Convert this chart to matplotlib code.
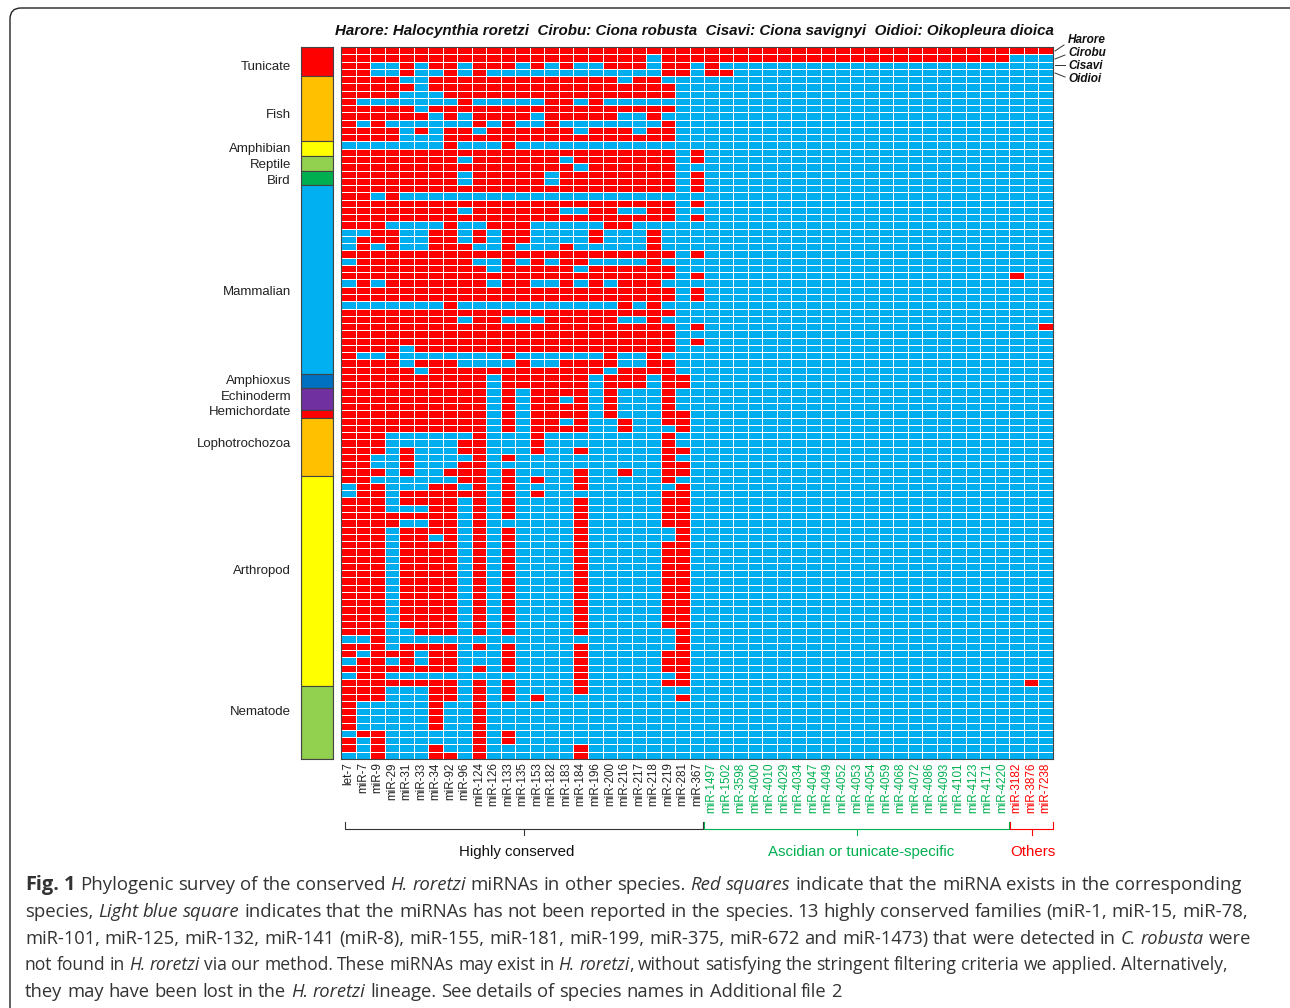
import numpy as np
import matplotlib
matplotlib.use("Agg")
import matplotlib.pyplot as plt
from matplotlib.colors import ListedColormap
from matplotlib.patches import FancyBboxPatch

# miRNA names, one per column
conserved = ["let-7", "miR-7", "miR-9", "miR-29", "miR-31", "miR-33", "miR-34", "miR-92", "miR-96",
             "miR-124", "miR-126", "miR-133", "miR-135", "miR-153", "miR-182", "miR-183", "miR-184",
             "miR-196", "miR-200", "miR-216", "miR-217", "miR-218", "miR-219", "miR-281", "miR-367"]
ascidian = ["miR-1497", "miR-1502", "miR-3598", "miR-4000", "miR-4010", "miR-4029", "miR-4034",
            "miR-4047", "miR-4049", "miR-4052", "miR-4053", "miR-4054", "miR-4059", "miR-4068",
            "miR-4072", "miR-4086", "miR-4093", "miR-4101", "miR-4123", "miR-4171", "miR-4220"]
others = ["miR-3182", "miR-3876", "miR-7238"]

groups = ["Tunicate", "Fish", "Amphibian", "Reptile", "Bird", "Mammalian", "Amphioxus",
          "Echinoderm", "Hemichordate", "Lophotrochozoa", "Arthropod", "Nematode"]
group_rows = [4, 9, 2, 2, 2, 26, 2, 3, 1, 8, 29, 10]
group_colors = ["#FF0000", "#FFC000", "#FFFF00", "#92D050", "#00B050", "#00B0F0", "#0070C0",
                "#7030A0", "#FF0000", "#FFC000", "#FFFF00", "#92D050"]
tunicates = ["Harore", "Cirobu", "Cisavi", "Oidioi"]

# columns where the miRNA exists, one entry per species row
red_cols = [
    "0-48", "0-20 22-45", "0-1 4 6-7 9-11 13 15 18-20 22-23 25", "0-1 4 7 9 22-23 25-26",
    "0-3 6-18 20-21", "0-4 6-22", "0-3 7-22", "0 8 14-15 17",
    "0-4 6-22", "0-5 7 9-12 14-18 21", "0 2 9 11 14 22", "0-3 5 7-8 10-15 17-19 21-22",
    "0-3 7-22", "7 11", "0-22 24", "0-7 9-14 16-22 24",
    "0-15 17-22", "0-7 9-13 15-22 24", "0-7 9-13 15-22 24", "0-22 24",
    "0-1 3", "0-22 24", "0-7 9-14 17-18 21-22", "0-22 24",
    "0-2 7 10-12 18-19", "2-3 6-7 9 11-12 17 21", "1-3 6-7 9 11-12 17 21", "1 3 6-8 11 15 21",
    "0-22 24", "1-8 11 13 15-16 21", "0-9 11-15 17-22", "0-22 24 46",
    "1 3-9 11-12 15 17 19-21", "0-22 24", "0-22 24", "7 19 21",
    "0-22", "0-7 9-10 14-18 21", "0-22 24 48", "0-22",
    "0-22 24", "0-3 5-22", "0 3 11 18 21", "0-3 5-7 12 15-18 21-22",
    "0-4 6-17 19-22", "0-9 11-16 18-20 22-23", "0-9 11-16 18-20 22-23", "0-9 11 13-16 18 22",
    "0-9 11 13-14 16 18 22", "0-9 11 13-16 18 22", "0-9 11 13-16 18 22-23", "0-9 11 13-14 16 19 22-23",
    "0-9 11 13-16 19 23", "0-2 9 13 22", "0-2 8-9 13 22", "0-2 4 8-9 13 16 22-23",
    "0-1 4 9 11 22", "0-1 4 8-9 22-23", "0-2 4 7-9 11 16 19 22-23", "0-1 8-9 11 13 16 22",
    "1-2 6-7 9 11 16 23", "1-2 4-9 11 13 22-23", "0-2 4-7 9 11 16 22-23", "0-2 6-7 9 11 16 22-23",
    "0-7 9 11 16 22-23", "0-3 6-7 9 16 22-23", "0-2 4-7 9 11 16 23", "0-2 4-5 7 9 11 16 23",
    "0-2 4-7 9 11 16 22-23", "0-2 4-7 9 11 16 22-23", "0-2 4-7 9 11 16 22-23", "0-2 4-7 9 11 16 22-23",
    "0-2 4-7 9 11 16 22-23", "0-2 4-7 9 11 16 22-23", "0-2 4-7 9 11 16 22-23", "0-2 4-7 9 11 16 22-23",
    "0-2 4-7 9 11 16 22-23", "0-2 4-7 9 11 16 22-23", "0-2 4-7 9 11 16 22-23", "0-2 4-7 9 11 16 22-23",
    "0-2 5-7 9 11 16 23", "2 23", "0-2 4-7 9 11 16 23", "0 2-4 6-7 11 16 22-23",
    "1-2 4 6-7 11 16 22-23", "0-7 9 11 16 22-23", "1-2 16 23", "0-7 9 11 16 22-23 47",
    "0-2 6-7 9 11 16", "0-2 6-7 9 11 13 23", "0 6 9", "0 6 9",
    "0 6 9", "0 6 9", "1-2 9 11", "0 2 9 11",
    "0 2 6 9 16", "2 6-7 9 16",
]

title = "Harore: Halocynthia roretzi  Cirobu: Ciona robusta  Cisavi: Ciona savignyi  Oidioi: Oikopleura dioica"
caption = [
    [("Fig. 1", "b"), (" Phylogenic survey of the conserved ", "n"), ("H. roretzi", "i"),
     (" miRNAs in other species. ", "n"), ("Red squares", "i"),
     (" indicate that the miRNA exists in the corresponding", "n")],
    [("species, ", "n"), ("Light blue square", "i"),
     (" indicates that the miRNAs has not been reported in the species. 13 highly conserved families (miR-1, miR-15, miR-78,", "n")],
    [("miR-101, miR-125, miR-132, miR-141 (miR-8), miR-155, miR-181, miR-199, miR-375, miR-672 and miR-1473) that were detected in ", "n"),
     ("C. robusta", "i"), (" were", "n")],
    [("not found in ", "n"), ("H. roretzi", "i"), (" via our method. These miRNAs may exist in ", "n"),
     ("H. roretzi", "i"), (", without satisfying the stringent filtering criteria we applied. Alternatively,", "n")],
    [("they may have been lost in the ", "n"), ("H. roretzi", "i"),
     (" lineage. See details of species names in Additional file 2", "n")],
]

W, H = 1290, 1008
GREEN = "#00B050"
plt.rcParams['font.family'] = ['Liberation Sans', 'DejaVu Sans']


def px_axes(fig, x0, y0, x1, y1):
    return fig.add_axes([x0 / W, 1 - y1 / H, (x1 - x0) / W, (y1 - y0) / H])


mirnas = conserved + ascidian + others
matrix = np.zeros((len(red_cols), len(mirnas)))
for r, spec in enumerate(red_cols):
    for part in spec.split():
        a, _, b = part.partition("-")
        matrix[r, int(a):int(b or a) + 1] = 1

fig = plt.figure(figsize=(W / 100, H / 100), dpi=100)

# overlay in pixel coords for frame, brackets and free text
over = fig.add_axes([0, 0, 1, 1])
over.set_xlim(0, W)
over.set_ylim(H, 0)
over.axis("off")

frame = FancyBboxPatch((10, 8), W + 40, H + 40, boxstyle="round,pad=0,rounding_size=11",
                       fc="none", ec="#222222", lw=1.0)
over.add_patch(frame)

ax = px_axes(fig, 341, 47, 1053, 759)
ax.pcolormesh(np.arange(len(mirnas) + 1), np.arange(len(red_cols) + 1), matrix,
              cmap=ListedColormap(["#00AEEF", "#FF0000"]), vmin=0, vmax=1,
              edgecolors="#FFFFFF", linewidth=0.55)
ax.set_xlim(0, len(mirnas))
ax.set_ylim(len(red_cols), 0)
ax.set_yticks([])
ax.set_xticks(np.arange(len(mirnas)) + 0.5, mirnas, rotation=90, fontsize=8.4)
ax.tick_params(axis="x", length=0, pad=2.5)
label_colors = ["#222222"] * len(conserved) + [GREEN] * len(ascidian) + ["#FF0000"] * len(others)
for lab, c in zip(ax.get_xticklabels(), label_colors):
    lab.set_color(c)
for s in ax.spines.values():
    s.set_color("#444444")
    s.set_linewidth(0.8)

# taxon strip
bar = px_axes(fig, 301, 47, 333, 759)
starts = np.cumsum([0] + group_rows[:-1])
bar.barh(starts, [1] * len(groups), height=group_rows, align="edge", color=group_colors,
         edgecolor="#444444", linewidth=0.8)
bar.set_xlim(0, 1)
bar.set_ylim(sum(group_rows), 0)
bar.set_xticks([])
bar.set_yticks([])
for s in bar.spines.values():
    s.set_color("#444444")
    s.set_linewidth(0.8)

label_y = [67, 115, 149, 165, 181, 292, 381, 397, 412, 444, 571, 712]
for name, y in zip(groups, label_y):
    over.text(291, y, name, ha="right", va="center", fontsize=9.5, color="#222222")

over.text(1054, 31, title, ha="right", va="center", fontsize=10.9, fontweight="bold",
          fontstyle="italic", color="#111111")

tun_y = [40, 53, 66, 79]
tun_lines = [((1055, 51), (1064, 45)), ((1055, 59), (1065, 55)), ((1055, 65), (1065, 65)), ((1055, 73), (1065, 77))]
for name, y, (p0, p1) in zip(tunicates, tun_y, tun_lines):
    over.text(1068, y, name, ha="left", va="center", fontsize=8.5, fontweight="bold",
              fontstyle="italic", color="#111111")
    over.plot([p0[0], p1[0]], [p0[1], p1[1]], color="#333333", lw=0.7)

# brackets under the tick labels
brackets = [(345, 703, 524, "#333333", "Highly conserved", 517),
            (704, 1009, 857, GREEN, "Ascidian or tunicate-specific", 861),
            (1010, 1053, 1032, "#FF0000", "Others", 1033)]
for x0, x1, xm, c, text, tx in brackets:
    over.plot([x0, x0, x1, x1], [822, 829, 829, 822], color=c, lw=0.8)
    over.plot([xm, xm], [829, 835], color=c, lw=0.8)
    over.text(tx, 852, text, ha="center", va="center", fontsize=10.8, color=c if c != "#333333" else "#111111")

# caption, word by word so each line can end where the reference line ends
renderer = fig.canvas.get_renderer()
baselines = [890, 917, 944, 970, 997]
line_ends = [1241, 1248, 1251, 1227, 842]
line_sizes = [13.4, 13.4, 13.27, 12.65, 13.2]
for runs, y, end, size in zip(caption, baselines, line_ends, line_sizes):
    styles = {"n": {"fontsize": size},
              "b": {"fontsize": 14.4, "fontweight": "bold"},
              "i": {"fontsize": size, "fontstyle": "italic"}}
    words = []
    gaps = 0
    pending_space = False
    for text, st in runs:
        pending_space = pending_space or text[0] == " "
        for word in text.split():
            t = over.text(0, y, word, ha="left", va="baseline", color="#333333",
                          family="Open Sans", parse_math=False, **styles[st])
            spaced = pending_space and len(words) > 0
            words.append((t, t.get_window_extent(renderer).width, spaced))
            gaps += spaced
            pending_space = True
        pending_space = text[-1] == " "
    gap = (end - 25 - sum(w[1] for w in words)) / gaps
    x = 25
    for t, width, spaced in words:
        if spaced:
            x += gap
        t.set_x(x)
        x += width
fig.savefig("out.png", dpi=100)
